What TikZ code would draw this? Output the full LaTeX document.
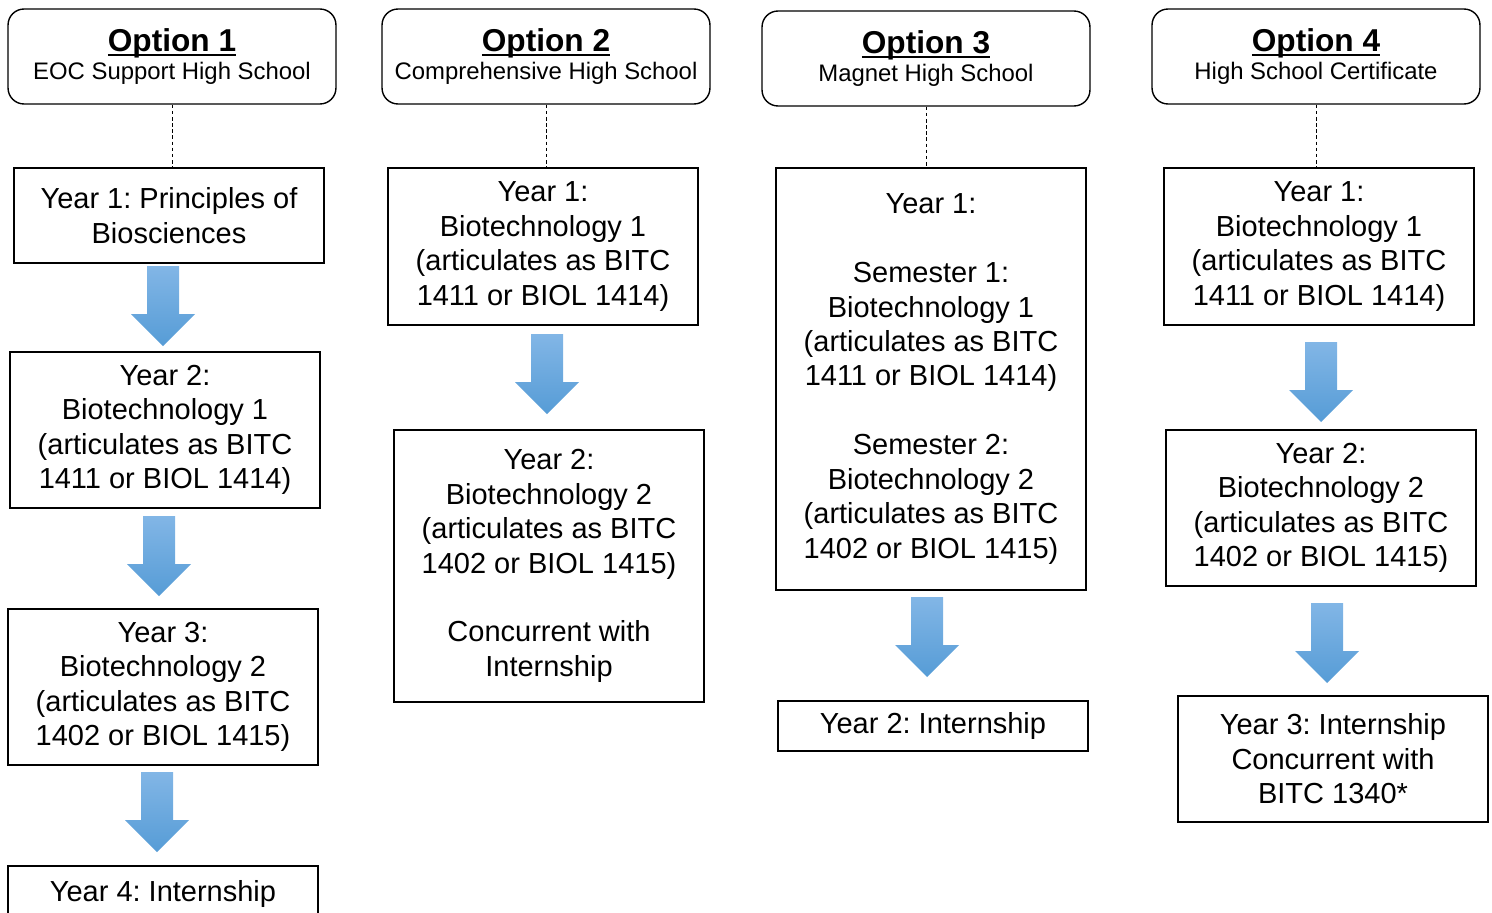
\documentclass[tikz,border=0pt]{standalone}
\usepackage{fontspec}
\setmainfont{Liberation Sans}
\usetikzlibrary{positioning,calc}
\frenchspacing
\definecolor{arrowtop}{RGB}{130,182,230}
\definecolor{arrowbot}{RGB}{86,156,214}
\tikzstyle{head} = [draw, rounded corners=0.32cm, line width=0.8pt, minimum width=6.56cm, minimum height=1.9cm, align=center, inner sep=0pt, font=\fontsize{13.6}{16}\selectfont]
\tikzstyle{yearbox} = [draw, line width=0.9pt, minimum width=6.2cm, align=center, inner sep=0pt, font=\fontsize{16.5}{19.6}\selectfont]
\tikzstyle{link} = [line width=0.5pt, dash pattern=on 2pt off 1.5pt]
\newcommand{\opt}[1]{{\fontsize{18}{20}\selectfont\bfseries\setbox0\hbox{#1}\rlap{\rule[-2.4pt]{\wd0}{0.8pt}}\box0}}
% blue block arrow, #1 = top centre
\newcommand{\bluearrow}[1]{\shade[top color=arrowtop, bottom color=arrowbot] (#1) +(-16,0) -- +(-16,48) -- +(-32,48) -- +(0,80) -- +(32,48) -- +(16,48) -- +(16,0) -- cycle;}

\begin{document}
\begin{tikzpicture}[x=0.02cm,y=-0.02cm]
\useasboundingbox (0,0) rectangle (1492,913);
% option headers
\draw (172,56.5) node (h1) [head] {\opt{Option 1}\\EOC Support High School};
\draw (546,56.5) node (h2) [head] {\opt{Option 2}\\Comprehensive High School};
\draw (926,58.5) node (h3) [head] {\opt{Option 3}\\Magnet High School};
\draw (1316,56.5) node (h4) [head] {\opt{Option 4}\\High School Certificate};
% option 1
\draw (169,215.5) node (b11) [yearbox, minimum height=1.9cm] {Year 1: Principles of\\Biosciences};
\draw (165,430) node (b12) [yearbox, minimum height=3.12cm] {Year 2:\\Biotechnology 1\\(articulates as BITC\\1411 or BIOL 1414)};
\draw (163,687) node (b13) [yearbox, minimum height=3.12cm] {Year 3:\\Biotechnology 2\\(articulates as BITC\\1402 or BIOL 1415)};
\draw (163,893.5) node (b14) [yearbox, minimum height=1.1cm] {Year 4: Internship};
% option 2
\draw (543,246.5) node (b21) [yearbox, minimum height=3.14cm] {Year 1:\\Biotechnology 1\\(articulates as BITC\\1411 or BIOL 1414)};
\draw (549,566) node (b22) [yearbox, minimum height=5.44cm] {Year 2:\\Biotechnology 2\\(articulates as BITC\\1402 or BIOL 1415)\\[19.6pt]Concurrent with\\Internship};
% option 3
\draw (931,379) node (b31) [yearbox, minimum height=8.44cm] {Year 1:\\[19.6pt]Semester 1:\\Biotechnology 1\\(articulates as BITC\\1411 or BIOL 1414)\\[19.6pt]Semester 2:\\Biotechnology 2\\(articulates as BITC\\1402 or BIOL 1415)};
\draw (933,726) node (b32) [yearbox, minimum height=1cm] {Year 2: Internship};
% option 4
\draw (1319,246.5) node (b41) [yearbox, minimum height=3.14cm] {Year 1:\\Biotechnology 1\\(articulates as BITC\\1411 or BIOL 1414)};
\draw (1321,508) node (b42) [yearbox, minimum height=3.12cm] {Year 2:\\Biotechnology 2\\(articulates as BITC\\1402 or BIOL 1415)};
\draw (1333,759) node (b43) [yearbox, minimum height=2.52cm] {Year 3: Internship\\Concurrent with\\BITC 1340*};
% dashed links
\draw[link] (h1.south) -- (h1.south |- b11.north);
\draw[link] (h2.south) -- (h2.south |- b21.north);
\draw[link] (h3.south) -- (h3.south |- b31.north);
\draw[link] (h4.south) -- (h4.south |- b41.north);
% arrows
\bluearrow{163,266}
\bluearrow{159,516}
\bluearrow{157,772}
\bluearrow{547,334}
\bluearrow{927,597}
\bluearrow{1321,342}
\bluearrow{1327,603}
\end{tikzpicture}
\end{document}
